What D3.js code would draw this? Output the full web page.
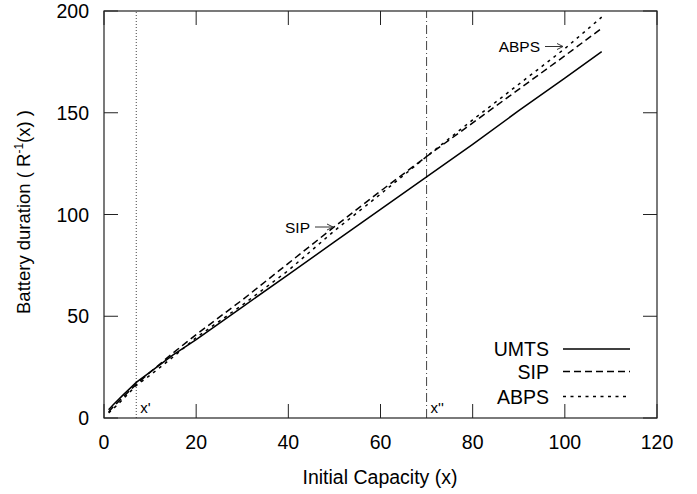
<html>
<head>
<script src="https://d3js.org/d3.v7.min.js"></script>
<style>
  body { margin: 0; background: white; }
  text { font-family: "Liberation Sans", Arial, sans-serif; fill: black; }
</style>
</head>
<body>
<svg id="chart" width="697" height="494"></svg>
<script>
// capacity values where curves were read
const capacity = [1, 2, 4, 7, 10, 15, 20, 30, 40, 50, 60, 70, 80, 90, 100, 108];
const umts = [4, 6.5, 11, 17.5, 22.5, 31, 38.5, 54.5, 70.5, 86.5, 102.5, 118.5, 134.5, 151, 167, 180];
const sip  = [3, 5.5, 10, 16.5, 22.5, 32, 41, 58, 76, 94, 111.5, 128.5, 145, 161.5, 178, 191.5];
const abps = [2.5, 4.5, 9, 16, 21, 30, 39.5, 55.5, 72.5, 92, 110, 128.5, 146.5, 164, 181.5, 197];
const xTicks = [0, 20, 40, 60, 80, 100, 120];
const yTicks = [0, 50, 100, 150, 200];
const xPrime = 7, xSecond = 70;

const svg = d3.select("#chart");
const x = d3.scaleLinear().domain([0, 120]).range([104, 657]);
const y = d3.scaleLinear().domain([0, 200]).range([418, 11]);

const series = [
  {name: "UMTS", vals: umts, dash: null},
  {name: "SIP", vals: sip, dash: "7,4"},
  {name: "ABPS", vals: abps, dash: "3,4.5"}
];

// vertical markers
svg.append("line").attr("x1", x(xPrime)).attr("x2", x(xPrime))
  .attr("y1", y(0)).attr("y2", y(200))
  .attr("stroke", "#444").attr("stroke-width", 1).attr("stroke-dasharray", "1,2");
svg.append("line").attr("x1", x(xSecond)).attr("x2", x(xSecond))
  .attr("y1", y(0)).attr("y2", y(200))
  .attr("stroke", "#444").attr("stroke-width", 1).attr("stroke-dasharray", "9,3,1,3");
svg.append("text").attr("x", x(xPrime) + 4).attr("y", y(0) - 5).attr("font-size", 15).text("x'");
svg.append("text").attr("x", x(xSecond) + 4).attr("y", y(0) - 5).attr("font-size", 15).text("x''");

// curves
const line = d3.line().x((d, i) => x(capacity[i])).y(d => y(d));
series.forEach(s => {
  svg.append("path").datum(s.vals).attr("d", line)
    .attr("fill", "none").attr("stroke", "black").attr("stroke-width", 1.5)
    .attr("stroke-dasharray", s.dash);
});

// frame
svg.append("rect").attr("x", x(0)).attr("y", y(200))
  .attr("width", x(120) - x(0)).attr("height", y(0) - y(200))
  .attr("fill", "none").attr("stroke", "#222").attr("stroke-width", 1.2);

// axes with inward ticks, mirrored
const tick = 14;
xTicks.forEach(t => {
  svg.append("line").attr("x1", x(t)).attr("x2", x(t)).attr("y1", y(0)).attr("y2", y(0) - tick)
    .attr("stroke", "#222");
  svg.append("line").attr("x1", x(t)).attr("x2", x(t)).attr("y1", y(200)).attr("y2", y(200) + tick)
    .attr("stroke", "#222");
  svg.append("text").attr("x", x(t)).attr("y", y(0) + 31).attr("text-anchor", "middle")
    .attr("font-size", 19.5).text(t);
});
yTicks.forEach(t => {
  svg.append("line").attr("x1", x(0)).attr("x2", x(0) + tick).attr("y1", y(t)).attr("y2", y(t))
    .attr("stroke", "#222");
  svg.append("line").attr("x1", x(120)).attr("x2", x(120) - tick).attr("y1", y(t)).attr("y2", y(t))
    .attr("stroke", "#222");
  svg.append("text").attr("x", 89).attr("y", y(t) + 7).attr("text-anchor", "end")
    .attr("font-size", 19.5).text(t);
});

// axis titles
svg.append("text").attr("x", 380).attr("y", 484).attr("text-anchor", "middle")
  .attr("font-size", 19.5).text("Initial Capacity (x)");
const yt = svg.append("text").attr("transform", "translate(30,212) rotate(-90)")
  .attr("text-anchor", "middle").attr("font-size", 18.5);
yt.append("tspan").text("Battery duration ( R");
yt.append("tspan").attr("dy", -7).attr("font-size", 12).text("-1");
yt.append("tspan").attr("dy", 7).text("(x) )");

// annotations with arrows
function note(label, textEnd, yPix, x1, x2) {
  svg.append("text").attr("x", textEnd).attr("y", yPix + 5.5).attr("text-anchor", "end")
    .attr("font-size", 15.5).text(label);
  svg.append("path")
    .attr("d", `M${x1},${yPix}H${x2}M${x2 - 6},${yPix - 3}L${x2},${yPix}L${x2 - 6},${yPix + 3}`)
    .attr("fill", "none").attr("stroke", "#333").attr("stroke-width", 1);
}
note("SIP", 310, 227, 315, 333);
note("ABPS", 540, 46.5, 545, 563);

// legend
const legend = [
  {name: "UMTS", dash: null, yy: 349},
  {name: "SIP", dash: "7,4", yy: 371.5},
  {name: "ABPS", dash: "3,4.5", yy: 396.5}
];
legend.forEach(l => {
  svg.append("text").attr("x", 549).attr("y", l.yy + 7).attr("text-anchor", "end")
    .attr("font-size", 19.5).text(l.name);
  svg.append("line").attr("x1", 563).attr("x2", 630).attr("y1", l.yy).attr("y2", l.yy)
    .attr("stroke", "black").attr("stroke-width", 1.5).attr("stroke-dasharray", l.dash);
});
</script>
</body>
</html>
